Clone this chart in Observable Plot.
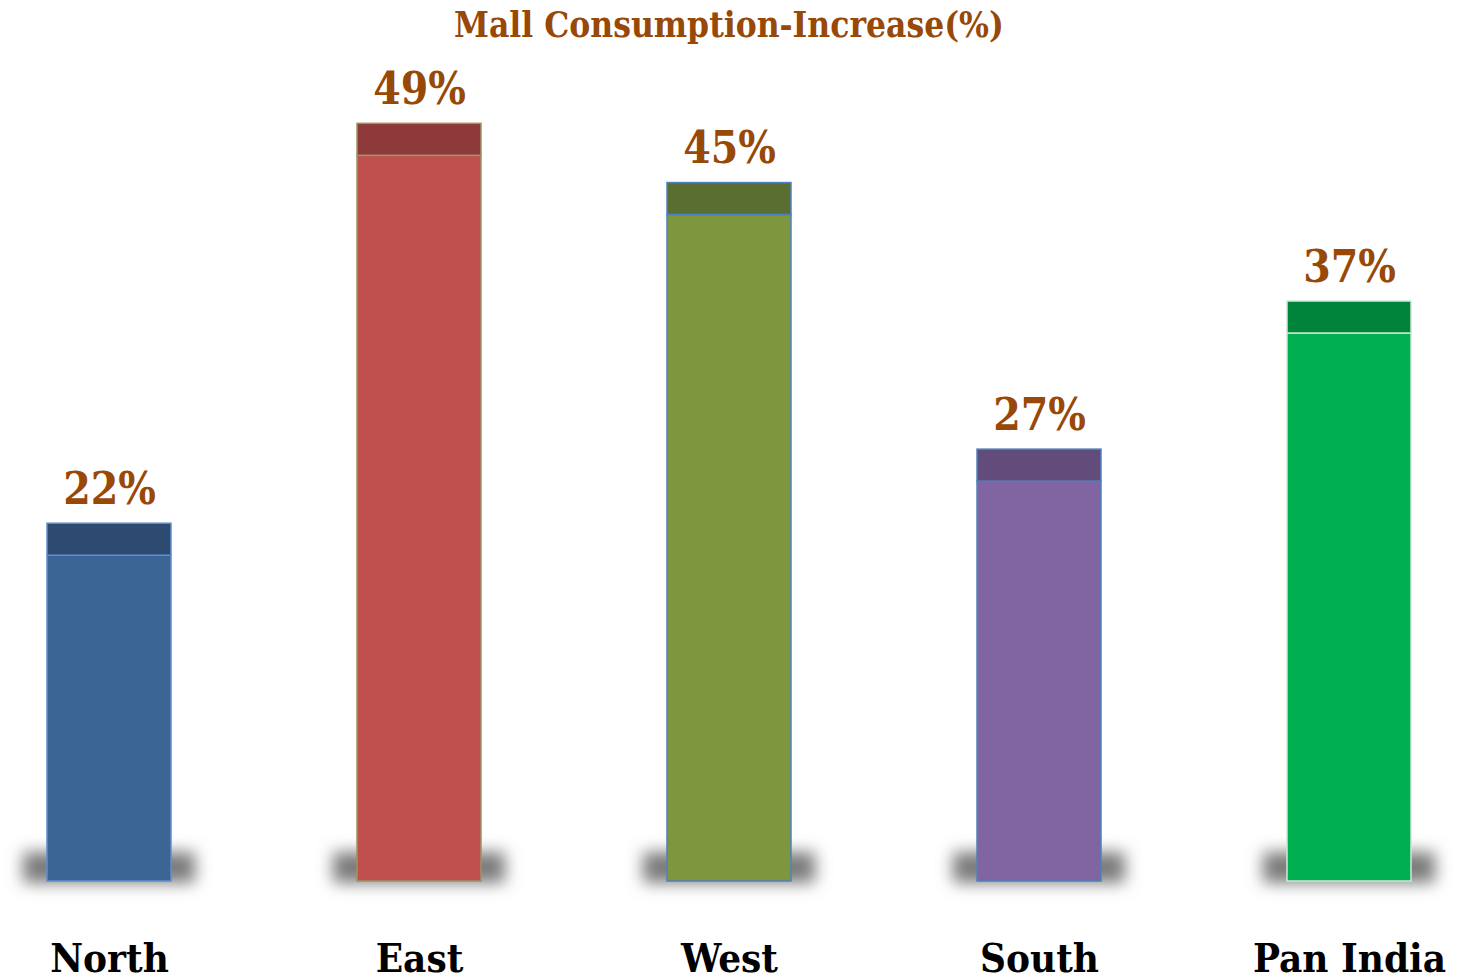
<!DOCTYPE html>
<html>
<head>
<meta charset="utf-8">
<script src="https://cdn.jsdelivr.net/npm/d3@7"></script>
<script src="https://cdn.jsdelivr.net/npm/@observablehq/plot@0.6"></script>
<style>
  html, body { margin: 0; padding: 0; background: #ffffff; }
  body { width: 1458px; height: 977px; overflow: hidden; }
  #title {
    height: 50px; line-height: 50px; text-align: center;
    font-family: "DejaVu Serif Condensed", "DejaVu Serif", serif;
    font-stretch: condensed; font-weight: bold; font-size: 35px;
    color: #984807;
  }
  svg { font-family: "DejaVu Serif Condensed", "DejaVu Serif", serif; font-stretch: condensed; }
</style>
</head>
<body>
<div id="title">Mall Consumption-Increase(%)</div>
<div id="chart"></div>
<script>
// ---- data ----
const categories = ["North", "East", "West", "South", "Pan India"];
const increase = [22, 49, 45, 27, 37];
const valueLabels = ["22%", "49%", "45%", "27%", "37%"];

// ---- styles ----
const bodyColors = ["#3b6595", "#c0504d", "#7e963e", "#8065a2", "#00b050"];
const capColors  = ["#2d4a70", "#8f3a3a", "#5a6e31", "#624c7c", "#00843c"];
const edgeColors = ["#5f8fcf", "#9c9564", "#4f81bd", "#4f81bd", "#cfe6d6"];

const data = categories.map((c, i) => ({
  category: c, value: increase[i], label: valueLabels[i],
  body: bodyColors[i], cap: capColors[i], edge: edgeColors[i]
}));

const capPx = 32;

const chart = Plot.plot({
  width: 1458,
  height: 927,
  marginLeft: 46,
  marginRight: 46,
  marginTop: 90.5,
  marginBottom: 96,
  x: { domain: categories, paddingInner: 0.6, paddingOuter: 0, label: null },
  y: { domain: [0, 50], axis: null },
  color: { type: "identity" },
  marks: [
    // base shadow
    Plot.barY(data, {
      x: "category", y1: 0, y2: 0,
      insetTop: -29, insetBottom: -2, insetLeft: -24, insetRight: -24,
      fill: "#7a7a7a", ariaLabel: "shadow"
    }),
    // front face
    Plot.barY(data, {
      x: "category", y1: 0, y2: "value",
      fill: "body", stroke: "edge", strokeWidth: 1.5
    }),
    // top cap
    Plot.barY(data, {
      x: "category", y1: "value", y2: "value",
      insetTop: -capPx,
      fill: "cap", stroke: "edge", strokeWidth: 1.5
    }),
    // value labels
    Plot.text(data, {
      x: "category", y: "value", text: "label",
      dy: -(capPx + 20), lineAnchor: "bottom",
      fill: "#984807", fontSize: 44, fontWeight: "bold"
    }),
    Plot.axisX({
      tickSize: 0, tickPadding: 62.5, fontSize: 40, fontWeight: "bold",
      fill: "#000000", label: null
    })
  ]
});

document.getElementById("chart").appendChild(chart);

// blur the shadow group
const svgEl = chart.tagName.toLowerCase() === "svg" ? chart : chart.querySelector("svg");
const svg = d3.select(svgEl);
const defs = svg.insert("defs", ":first-child");
const f = defs.append("filter").attr("id", "shadowBlur")
  .attr("filterUnits", "userSpaceOnUse")
  .attr("x", 0).attr("y", 700).attr("width", 1458).attr("height", 227);
f.append("feGaussianBlur").attr("stdDeviation", 8);
let g = svgEl.querySelector('g[aria-label="shadow"]');
if (!g) g = svgEl.querySelector('g[fill="#7a7a7a"]');
if (!g) {
  const rect = Array.from(svgEl.querySelectorAll("rect")).find(r => r.getAttribute("fill") === "#7a7a7a");
  if (rect) g = rect.parentNode;
}
if (g) g.setAttribute("filter", "url(#shadowBlur)");
</script>
</body>
</html>
